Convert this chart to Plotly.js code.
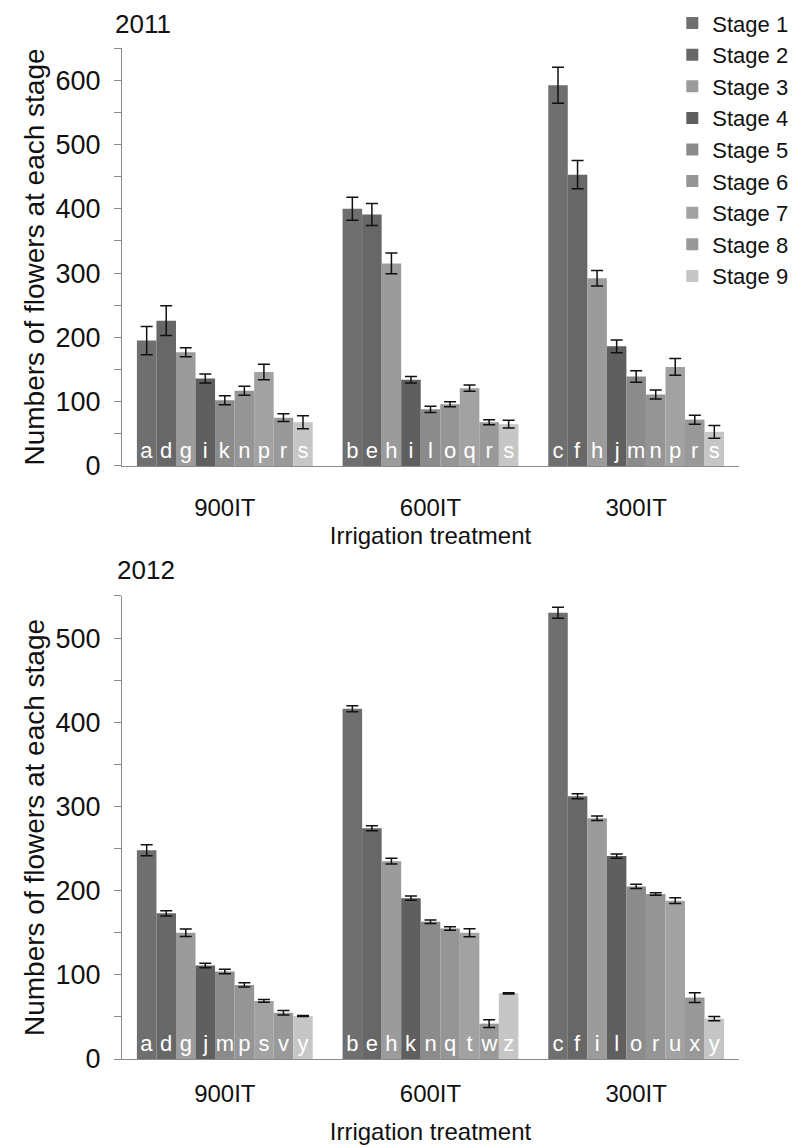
<!DOCTYPE html>
<html>
<head>
<meta charset="utf-8">
<script src="https://cdn.plot.ly/plotly-3.0.1.min.js"></script>
<style>html,body{margin:0;padding:0;background:#fff;}#chart{width:810px;height:1148px;}</style>
</head>
<body>
<div id="chart"></div>
<script>
const categories = ['900IT', '600IT', '300IT'];
const stages = ['Stage 1','Stage 2','Stage 3','Stage 4','Stage 5','Stage 6','Stage 7','Stage 8','Stage 9'];
const stageColors = ['#6f6f6f','#676767','#9b9b9b','#5f5f5f','#8b8b8b','#959595','#a2a2a2','#999999','#c6c6c6'];

// 2011: values per stage for [900IT, 600IT, 300IT]
const vals2011 = [
  [195, 400, 592],
  [226, 391, 453],
  [177, 315, 292],
  [136, 134, 186],
  [102, 88, 139],
  [117, 96, 111],
  [146, 121, 154],
  [75, 68, 72],
  [68, 65, 53]
];
const err2011 = [
  [22, 18, 28],
  [23, 17, 22],
  [7, 16, 12],
  [7, 5, 10],
  [7, 5, 9],
  [7, 4, 7],
  [12, 5, 13],
  [6, 4, 7],
  [10, 6, 10]
];
const letters2011 = [
  ['a','b','c'],
  ['d','e','f'],
  ['g','h','h'],
  ['i','i','j'],
  ['k','l','m'],
  ['n','o','n'],
  ['p','q','p'],
  ['r','r','r'],
  ['s','s','s']
];

// 2012
const vals2012 = [
  [248, 416, 530],
  [173, 274, 312],
  [150, 235, 286],
  [111, 191, 241],
  [104, 163, 205],
  [88, 155, 196],
  [69, 150, 188],
  [55, 42, 73],
  [51, 78, 48]
];
const err2012 = [
  [6.5, 3.5, 6.5],
  [3, 3, 3],
  [4.5, 3.5, 2.6],
  [2.6, 2.5, 2.6],
  [2.6, 2, 2.6],
  [2.5, 2, 1.5],
  [1.6, 4.8, 3.4],
  [2.6, 4.5, 5.8],
  [0.6, 0.8, 2.5]
];
const letters2012 = [
  ['a','b','c'],
  ['d','e','f'],
  ['g','h','i'],
  ['j','k','l'],
  ['m','n','o'],
  ['p','q','r'],
  ['s','t','u'],
  ['v','w','x'],
  ['y','z','y']
];

const FONT = 'Liberation Sans, Arial, sans-serif';
const traces = [];
function addYear(vals, errs, letters, xa, ya, showLegend) {
  stages.forEach((name, i) => {
    traces.push({
      type: 'bar',
      name: name,
      x: categories,
      y: vals[i],
      xaxis: xa,
      yaxis: ya,
      showlegend: showLegend,
      legendgroup: name,
      marker: {color: stageColors[i], line: {width: 0}},
      text: letters[i],
      textposition: 'inside',
      insidetextanchor: 'start',
      textangle: 0,
      constraintext: 'none',
      insidetextfont: {family: FONT, size: 22, color: '#ffffff'},
      error_y: {type: 'data', array: errs[i], visible: true, color: '#111111', thickness: 1.5, width: 6},
      hoverinfo: 'skip'
    });
  });
}
addYear(vals2011, err2011, letters2011, 'x', 'y', true);
addYear(vals2012, err2012, letters2012, 'x2', 'y2', false);

const yCommon = {
  showline: true, linecolor: '#8a8a8a', linewidth: 1,
  ticks: 'outside', ticklen: 7, tickcolor: '#8a8a8a',
  dtick: 100, tick0: 0,
  minor: {dtick: 50, ticks: 'outside', ticklen: 7, tickcolor: '#8a8a8a', showgrid: false},
  showgrid: false, zeroline: false,
  tickfont: {family: FONT, size: 27, color: '#111'},
  ticklabelstandoff: 8,
  title: {text: 'Numbers of flowers at each stage', font: {family: FONT, size: 28, color: '#111'}, standoff: 2}
};
const xCommon = {
  showline: true, linecolor: '#8a8a8a', linewidth: 1,
  ticks: '', showgrid: false, zeroline: false,
  tickfont: {family: FONT, size: 24, color: '#111'}
};

const layout = {
  width: 810, height: 1148,
  margin: {l: 122, r: 71, t: 48, b: 89, autoexpand: false},
  paper_bgcolor: '#fff', plot_bgcolor: '#fff',
  barmode: 'group', bargap: 0.145, bargroupgap: 0,
  font: {family: FONT, color: '#111'},
  xaxis: Object.assign({}, xCommon, {domain: [0, 1], anchor: 'y', ticklabelstandoff: 20,
    title: {text: 'Irrigation treatment', font: {family: FONT, size: 24, color: '#111'}, standoff: 7}}),
  yaxis: Object.assign({}, yCommon, {domain: [0.5866, 1], anchor: 'x', range: [0, 650]}),
  xaxis2: Object.assign({}, xCommon, {domain: [0, 1], anchor: 'y2', ticklabelstandoff: 13,
    title: {text: 'Irrigation treatment', font: {family: FONT, size: 24, color: '#111'}, standoff: 17}}),
  yaxis2: Object.assign({}, yCommon, {domain: [0, 0.458], anchor: 'x2', range: [0, 550]}),
  legend: {
    xref: 'container', yref: 'container',
    x: 0.83, y: 0.998, xanchor: 'left', yanchor: 'top',
    font: {family: FONT, size: 22, color: '#111'},
    bgcolor: 'rgba(0,0,0,0)', tracegroupgap: 0, itemclick: false
  },
  annotations: [
    {text: '2011', xref: 'paper', yref: 'paper', x: -0.015, y: 1.0237, xanchor: 'left', yanchor: 'middle',
     showarrow: false, font: {family: FONT, size: 26, color: '#111'}},
    {text: '2012', xref: 'paper', yref: 'paper', x: -0.012, y: 0.4837, xanchor: 'left', yanchor: 'middle',
     showarrow: false, font: {family: FONT, size: 26, color: '#111'}}
  ]
};

Plotly.newPlot('chart', traces, layout, {staticPlot: true, displayModeBar: false});
</script>
</body>
</html>
